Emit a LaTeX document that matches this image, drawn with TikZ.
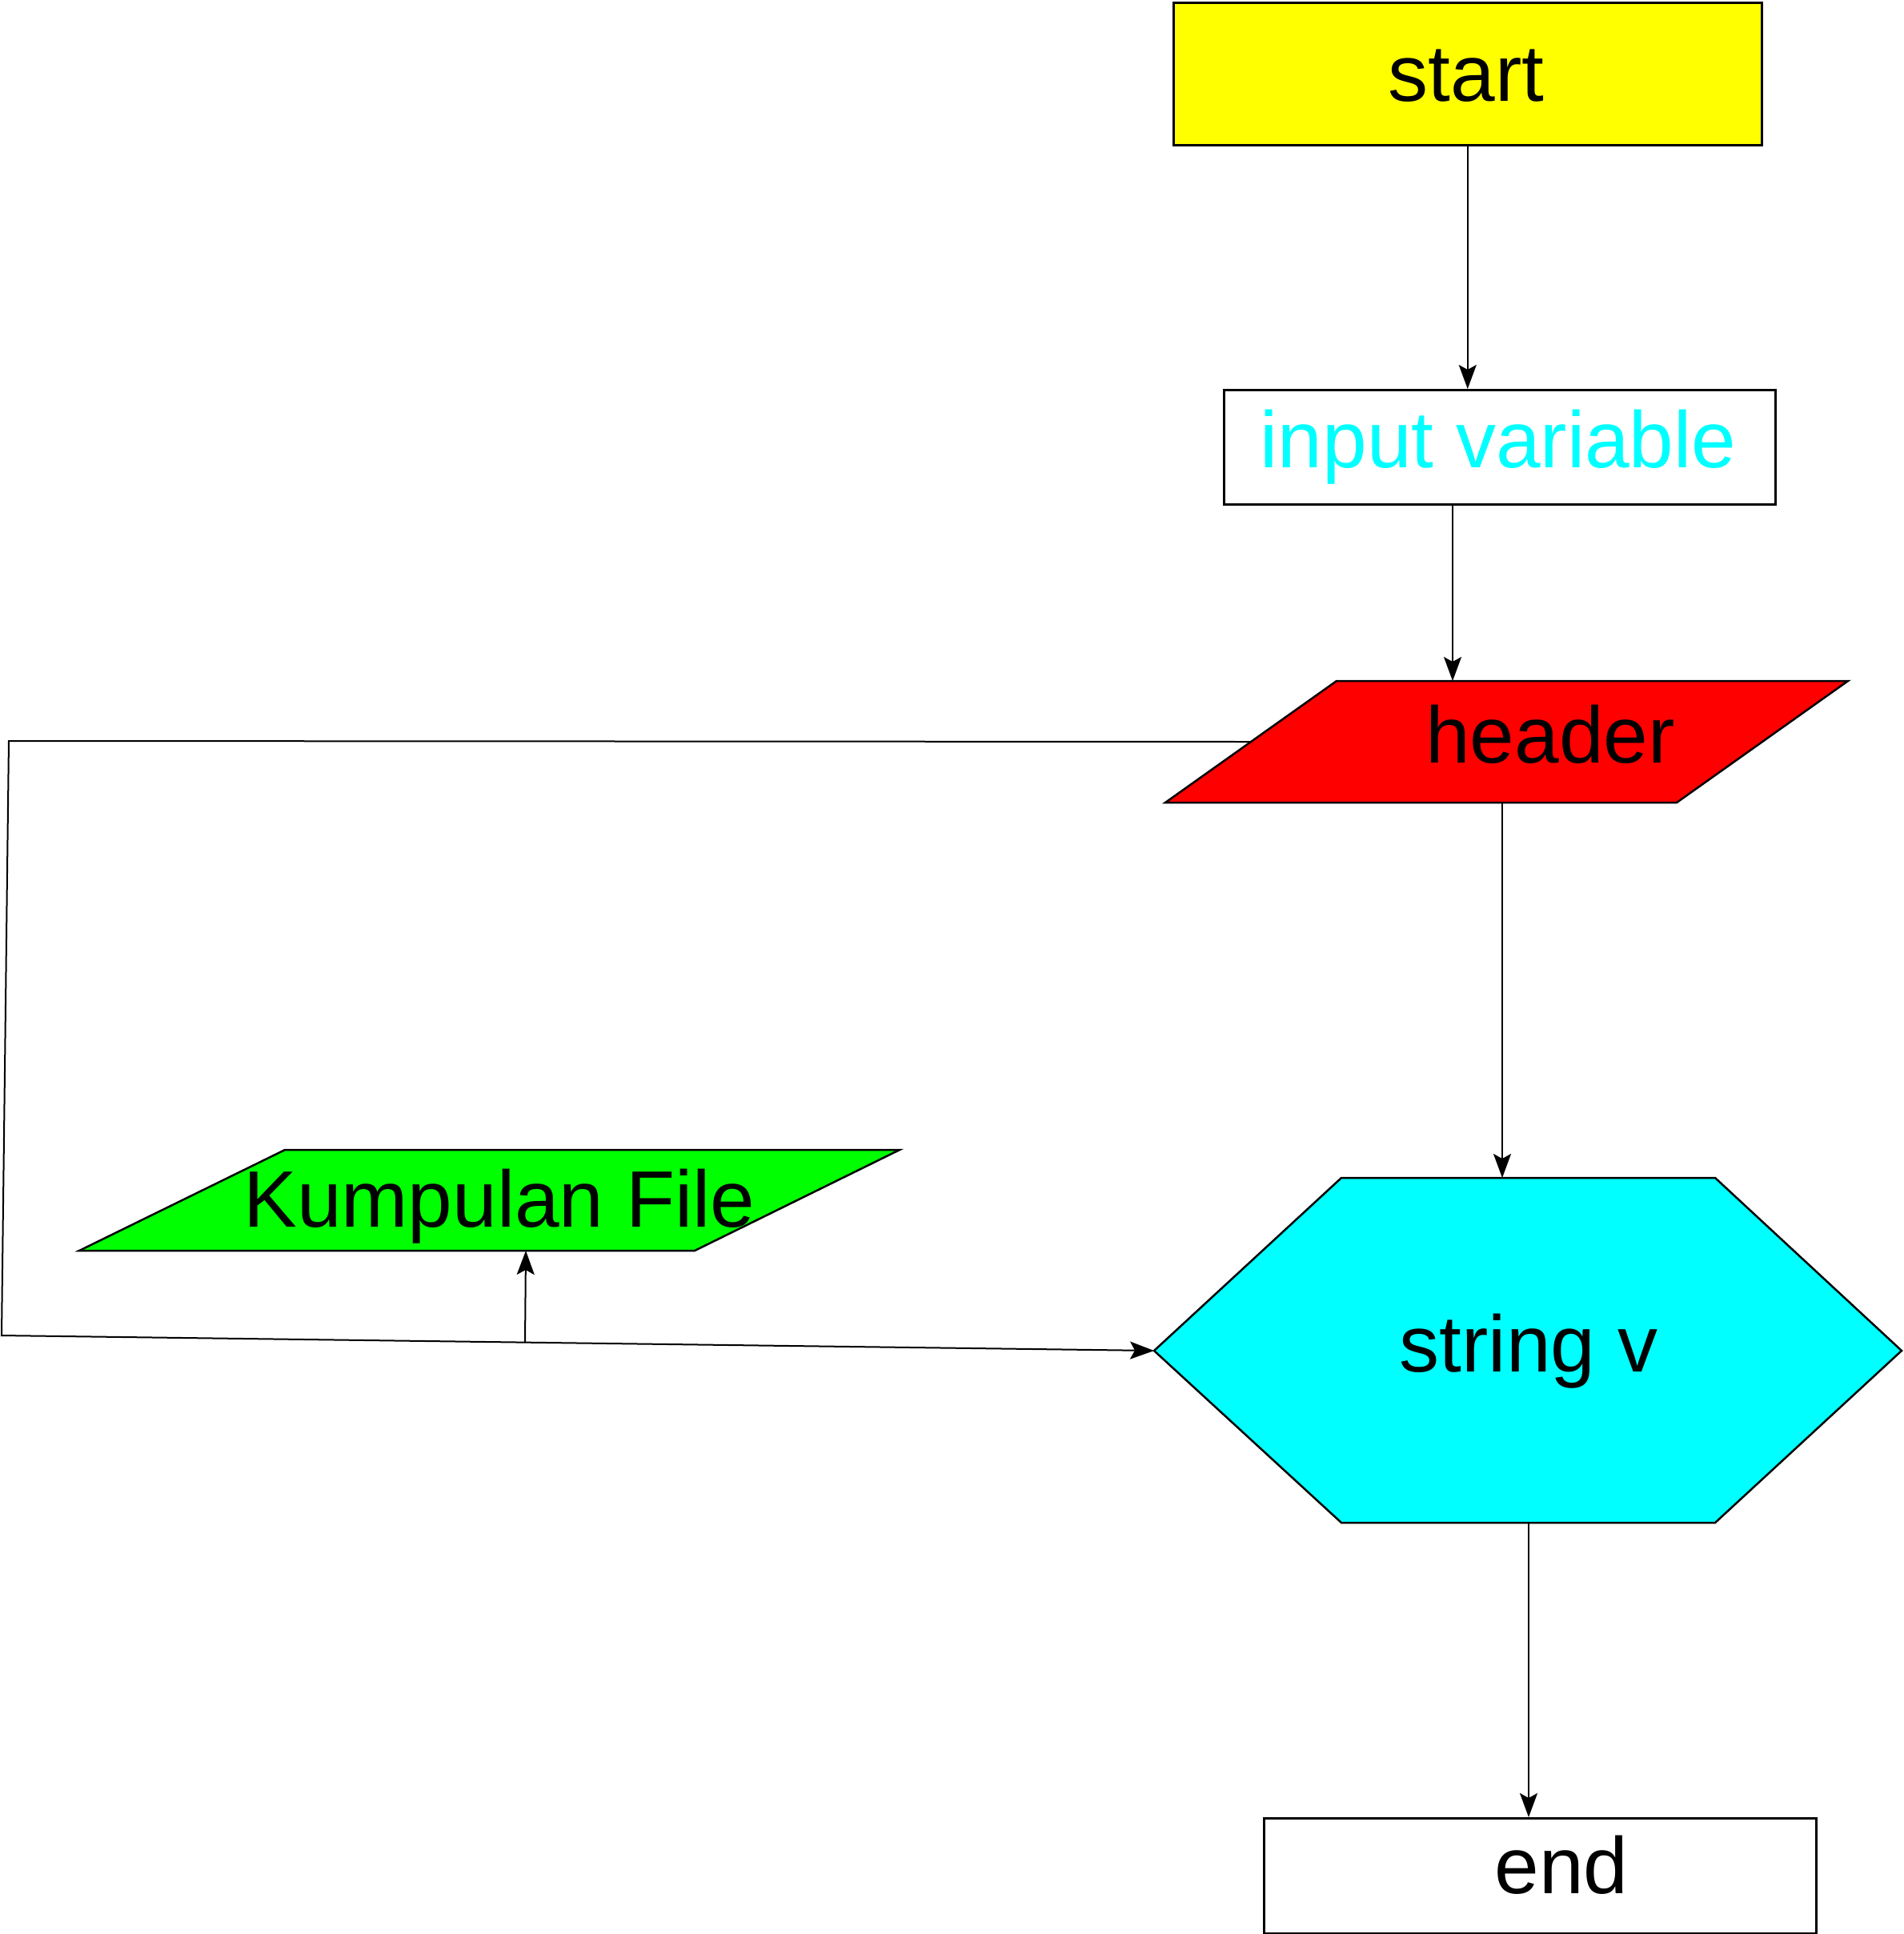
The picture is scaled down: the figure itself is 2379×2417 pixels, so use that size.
\documentclass[tikz,border=0pt]{standalone}
\usepackage{fontspec}
\setmainfont{Liberation Sans}
\usetikzlibrary{arrows.meta}
\definecolor{flyellow}{RGB}{255,255,0}
\definecolor{flcyan}{RGB}{0,255,255}
\definecolor{flred}{RGB}{255,0,0}
\definecolor{flgreen}{RGB}{0,255,0}
\tikzset{
  outline/.style={draw=black, line width=2.5pt, line join=miter},
  boxnode/.style={outline, rectangle, inner sep=0pt, anchor=north west},
  label text/.style={font=\fontsize{100}{120}\selectfont, anchor=base, inner sep=0pt},
  conn/.style={draw=black, line width=2pt},
  arr/.style={conn, -{Stealth[length=30pt, width=22pt, inset=6pt]}},
}
\begin{document}
\begin{tikzpicture}[x=1pt, y=-1pt]
\useasboundingbox (0,0) rectangle (2379,2417);

% start box
\node[boxnode, fill=flyellow, minimum width=735pt, minimum height=178pt] (start) at (1465,2) {};
\node[label text] (startlbl) at (1832,126) {start};

% input variable box
\node[boxnode, fill=white, minimum width=689pt, minimum height=143pt] (input) at (1528,486) {};
\node[label text, text=flcyan] (inputlbl) at (1872,584) {input variable};

% header parallelogram
\coordinate (hdrTL) at (1670,851);
\coordinate (hdrTR) at (2309,851);
\coordinate (hdrBR) at (2095,1003);
\coordinate (hdrBL) at (1456,1003);
\draw[outline, fill=flred] (hdrTL) -- (hdrTR) -- (hdrBR) -- (hdrBL) -- cycle;
\node[label text] (hdrlbl) at (1937,953) {header};

% string v hexagon
\coordinate (hexTL) at (1676,1472);
\coordinate (hexTR) at (2143,1472);
\coordinate (hexR) at (2376,1688);
\coordinate (hexBR) at (2143,1903);
\coordinate (hexBL) at (1676,1903);
\coordinate (hexL) at (1442,1688);
\draw[outline, fill=flcyan] (hexTL) -- (hexTR) -- (hexR) -- (hexBR) -- (hexBL) -- (hexL) -- cycle;
\node[label text] (hexlbl) at (1910,1714) {string v};

% end box
\node[boxnode, fill=white, minimum width=690pt, minimum height=144pt] (end) at (1578,2271) {};
\node[label text] (endlbl) at (1951,2366) {end};

% Kumpulan File parallelogram
\coordinate (kfTL) at (356,1437);
\coordinate (kfTR) at (1124,1437);
\coordinate (kfBR) at (868,1563);
\coordinate (kfBL) at (99,1563);
\draw[outline, fill=flgreen] (kfTL) -- (kfTR) -- (kfBR) -- (kfBL) -- cycle;
\node[label text] (kflbl) at (624,1533) {Kumpulan File};

% connector end points
\coordinate (hdrIn) at (1815,851);
\coordinate (hdrOut) at (1877,1003);
\coordinate (hexIn) at (1877,1472);
\coordinate (hexOut) at (1910,1903);
\coordinate (endIn) at (1910,2271);
\coordinate (hdrLeft) at (1562,927);
\coordinate (loopTL) at (11,926);
\coordinate (loopBL) at (2,1669);
\coordinate (branch) at (656,1678);
\coordinate (kfIn) at (657,1563);

% flow connectors
\draw[arr] (start.south) -- (start.south |- input.north);
\draw[arr] (hdrIn |- input.south) -- (hdrIn);
\draw[arr] (hdrOut) -- (hexIn);
\draw[arr] (hexOut) -- (endIn);
\draw[arr, line join=miter] (hdrLeft) -- (loopTL) -- (loopBL) -- (hexL);
\draw[arr] (branch) -- (kfIn);
\end{tikzpicture}
\end{document}
